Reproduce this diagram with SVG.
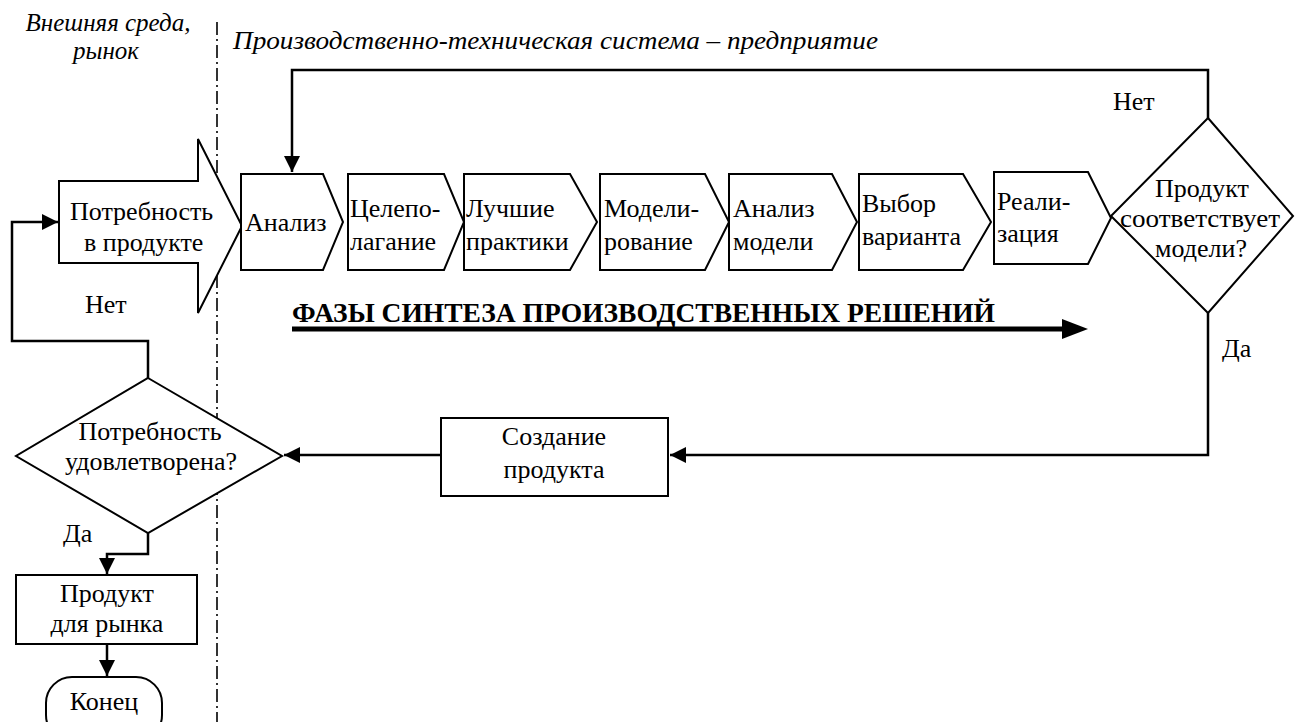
<svg xmlns="http://www.w3.org/2000/svg" width="1295" height="722" viewBox="0 0 1295 722">
<defs>
<style>
.s{fill:#fff;stroke:#000;stroke-width:2}
.t{font-family:'Liberation Serif','Liberation Sans',serif;font-size:26px;fill:#000}
.i{font-family:'Liberation Serif','Liberation Sans',serif;font-size:25px;font-style:italic;fill:#000}
.b{font-family:'Liberation Serif','Liberation Sans',serif;font-size:27px;font-weight:bold;fill:#000}
.c{fill:none;stroke:#000;stroke-width:2.5}
.m{text-anchor:middle}
</style>
<marker id="ah" viewBox="0 0 10 10" refX="10" refY="5" markerWidth="16" markerHeight="16" markerUnits="userSpaceOnUse" orient="auto">
<path d="M0,0 L10,5 L0,10 Z" fill="#000"/>
</marker>
</defs>
<rect width="1295" height="722" fill="#fff"/>

<text class="i" x="108" y="31" text-anchor="middle">Внешняя среда,</text>
<text class="i" x="106" y="59" text-anchor="middle">рынок</text>
<text class="i" x="233" y="49" textLength="645" lengthAdjust="spacingAndGlyphs">Производственно-техническая система – предприятие</text>

<line x1="217" y1="22" x2="217" y2="722" stroke="#000" stroke-width="1.6" stroke-dasharray="13,4,2,4"/>

<g id="connectors">
<polyline class="c" points="1208,118 1208,70 292,70 292,172" marker-end="url(#ah)"/>
<polyline class="c" points="1208,313 1208,455 670,455" marker-end="url(#ah)"/>
<polyline class="c" points="441,455 284,455" marker-end="url(#ah)"/>
<polyline class="c" points="148,378 148,341 12,341 12,222 58,222" marker-end="url(#ah)"/>
<polyline class="c" points="148,533 148,554 107,554 107,574" marker-end="url(#ah)"/>
<polyline class="c" points="107,644 107,676" marker-end="url(#ah)"/>
<line x1="292" y1="329" x2="1064" y2="329" stroke="#000" stroke-width="5"/>
<polygon points="1062,319 1088,329 1062,339" fill="#000"/>
</g>

<g id="need">
<polygon class="s" points="59,181 198,181 198,139 242,226 198,313 198,263 59,263"/>
<text class="t" x="70" y="220">Потребность</text>
<text class="t" x="84" y="251">в продукте</text>
</g>

<g id="analysis">
<polygon class="s" points="241,174 323,174 343,222 323,270 241,270"/>
<text class="t" x="245" y="231">Анализ</text>
</g>
<g id="goal">
<polygon class="s" points="348,174 444,174 464,222 444,270 348,270"/>
<text class="t" x="350" y="217">Целепо-</text>
<text class="t" x="350" y="250">лагание</text>
</g>
<g id="best">
<polygon class="s" points="464,174 570,174 597,222 570,270 464,270"/>
<text class="t" x="466" y="217">Лучшие</text>
<text class="t" x="466" y="250">практики</text>
</g>
<g id="model">
<polygon class="s" points="600,174 705,174 729,222 705,270 600,270"/>
<text class="t" x="604" y="217">Модели-</text>
<text class="t" x="604" y="250">рование</text>
</g>
<g id="modelanalysis">
<polygon class="s" points="729,174 832,174 857,222 832,270 729,270"/>
<text class="t" x="733" y="217">Анализ</text>
<text class="t" x="733" y="250">модели</text>
</g>
<g id="choice">
<polygon class="s" points="859,174 963,174 991,222 963,270 859,270"/>
<text class="t" x="862" y="212">Выбор</text>
<text class="t" x="862" y="245">варианта</text>
</g>
<g id="impl">
<polygon class="s" points="994,172 1088,172 1111,218 1088,264 994,264"/>
<text class="t" x="997" y="210">Реали-</text>
<text class="t" x="997" y="242">зация</text>
</g>

<g id="check">
<polygon class="s" points="1208,118 1293,216 1208,313 1111,216"/>
<text class="t m" x="1202" y="197">Продукт</text>
<text class="t m" x="1200" y="227" textLength="160" lengthAdjust="spacingAndGlyphs">соответствует</text>
<text class="t m" x="1201" y="257">модели?</text>
</g>
<text class="t" x="1113" y="110">Нет</text>
<text class="t" x="1222" y="357">Да</text>

<g id="create">
<rect class="s" x="441" y="418" width="227" height="78"/>
<text class="t m" x="554" y="445">Создание</text>
<text class="t m" x="554" y="478">продукта</text>
</g>

<g id="satisfied">
<polygon class="s" points="148,378 282,456 148,533 16,456"/>
<text class="t m" x="150" y="440">Потребность</text>
<text class="t m" x="151" y="470">удовлетворена?</text>
</g>
<text class="t" x="85" y="313">Нет</text>
<text class="t" x="63" y="542">Да</text>

<g id="market">
<rect class="s" x="16" y="575" width="181" height="69"/>
<text class="t m" x="107" y="602">Продукт</text>
<text class="t m" x="107" y="632">для рынка</text>
</g>

<g id="end">
<rect class="s" x="46" y="677" width="116" height="64" rx="26"/>
<text class="t m" x="104" y="710">Конец</text>
</g>

<text class="b" x="292" y="322" textLength="703" lengthAdjust="spacingAndGlyphs">ФАЗЫ СИНТЕЗА ПРОИЗВОДСТВЕННЫХ  РЕШЕНИЙ</text>
</svg>
